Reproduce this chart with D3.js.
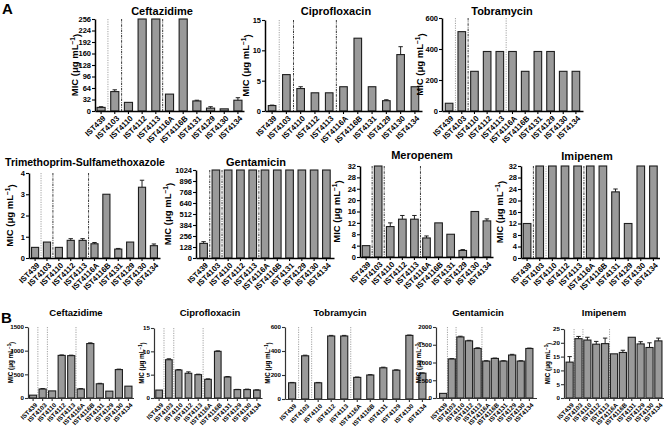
<!DOCTYPE html>
<html><head><meta charset="utf-8">
<script src="https://cdn.jsdelivr.net/npm/d3@7"></script>
<style>
body{margin:0;background:#fff;}
svg{display:block;font-family:"Liberation Sans",Arial,sans-serif;font-weight:bold;}
</style></head><body>
<svg id="c" width="664" height="427"></svg>
<script>
// ---------- data ----------
const strains = ["IST439","IST4103","IST4110","IST4112","IST4113","IST4116A","IST4116B","IST4131","IST4129","IST4130","IST4134"];

const aCeftazidime    = [10, 54, 24, 256, 256, 47, 256, 28, 8, 6, 30];
const aCeftazidimeErr = [2, 5, 0, 0, 0, 0, 0, 2, 4, 0, 7];
const aCiprofloxacin    = [0.9, 6, 3.7, 3, 3, 4, 12, 4, 1.7, 9.3, 4];
const aCiprofloxacinErr = [0.07, 0, 0.3, 0, 0, 0, 0, 0, 0.15, 1.3, 0];
const aTobramycin    = [50, 512, 256, 384, 384, 384, 256, 384, 384, 256, 256];
const aTobramycinErr = [0, 0, 0, 0, 0, 0, 0, 0, 0, 0, 0];
const aTrimethoprim    = [0.5, 0.75, 0.5, 0.83, 0.83, 0.67, 3, 0.42, 0.75, 3.33, 0.58];
const aTrimethoprimErr = [0, 0, 0, 0.08, 0.08, 0.06, 0, 0.03, 0, 0.33, 0.08];
const aGentamicin    = [170, 1024, 1024, 1024, 1024, 1024, 1024, 1024, 1024, 1024, 1024];
const aGentamicinErr = [20, 0, 0, 0, 0, 0, 0, 0, 0, 0, 0];
const aMeropenem    = [4, 32, 10.7, 13.3, 13.3, 6.7, 12, 8, 2.3, 16, 12.7];
const aMeropenemErr = [0, 0, 1.3, 1.3, 1.3, 0.7, 0, 0, 0.3, 0, 0.7];
const aImipenem    = [12, 32, 32, 32, 32, 32, 32, 23, 12, 32, 32];
const aImipenemErr = [0, 0, 0, 0, 0, 0, 0, 1, 0, 0, 0];

const bCeftazidime    = [60, 190, 150, 900, 895, 190, 1150, 300, 145, 600, 250];
const bCeftazidimeErr = [0, 10, 0, 10, 10, 10, 15, 10, 0, 10, 0];
const bCiprofloxacin    = [1.7, 8.2, 6.0, 5.3, 5.0, 4.0, 10.0, 4.5, 1.8, 1.8, 1.7];
const bCiprofloxacinErr = [0, 0.2, 0.1, 0.3, 0.1, 0.1, 0.1, 0.1, 0.05, 0.1, 0.05];
const bTobramycin    = [135, 360, 135, 525, 525, 180, 200, 260, 240, 530, 215];
const bTobramycinErr = [3, 5, 3, 5, 5, 3, 3, 5, 3, 3, 3];
const bGentamicin    = [130, 1100, 1720, 1610, 1395, 1040, 1115, 1040, 1210, 1040, 1395];
const bGentamicinErr = [0, 10, 20, 15, 20, 10, 10, 10, 20, 10, 10];
const bImipenem    = [13, 21.5, 21, 19.5, 19.7, 16, 16.5, 22, 19.6, 18.3, 20.7];
const bImipenemErr = [2, 0.8, 1, 1, 2, 0, 0.8, 0, 0.8, 1.7, 1];

const ticks256 = [0, 32, 64, 96, 128, 160, 192, 224, 256];
const ticks15 = [0, 5, 10, 15];
const ticks600 = [0, 200, 400, 600];
const ticks4 = [0, 1, 2, 3, 4];
const ticks1024 = [0, 128, 256, 384, 512, 640, 768, 896, 1024];
const ticks32 = [0, 4, 8, 12, 16, 20, 24, 28, 32];
const ticks1500 = [0, 500, 1000, 1500];
const ticks2000 = [0, 500, 1000, 1500, 2000];
const ticks25 = [0, 5, 10, 15, 20, 25];

// ---------- layout ----------
const A = {title: 11, tick: 7.5, xtick: 7.8, ylab: 9.5, axis: "#000", aw: 1.5};
const B = {title: 9.5, tick: 6.2, xtick: 6.3, ylab: 6.3, axis: "#333", aw: 1.2};
const sepA = [[1,"g"],[2,"k"],[5,"k"]];
const sepB = [[1,"g"],[2,"g"],[5,"g"]];
const panels = [
  {name:"Ceftazidime", v:aCeftazidime, e:aCeftazidimeErr, t:ticks256, f:A, x0:95, c0:101, c1:236, bw:8, yT:19, yB:111, tx:162, ty:15, lx:75, seps:sepA},
  {name:"Ciprofloxacin", v:aCiprofloxacin, e:aCiprofloxacinErr, t:ticks15, f:A, x0:265, c0:272, c1:413, bw:7.5, yT:20, yB:111, tx:336, ty:15, lx:246, seps:sepA},
  {name:"Tobramycin", v:aTobramycin, e:aTobramycinErr, t:ticks600, f:A, x0:442, c0:449, c1:574, bw:7.5, yT:18, yB:111, tx:502, ty:15, lx:420, seps:[[1,"g"],[2,"k"],[5,"g"]]},
  {name:"Trimethoprim-Sulfamethoxazole", v:aTrimethoprim, e:aTrimethoprimErr, t:ticks4, f:Object.assign({}, A, {title:10.5}), x0:29, c0:35, c1:152, bw:7, yT:173, yB:258, tx:85, ty:166, lx:10, seps:sepA},
  {name:"Gentamicin", v:aGentamicin, e:aGentamicinErr, t:ticks1024, f:A, x0:196, c0:203.5, c1:324.5, bw:7.5, yT:170, yB:258, tx:256, ty:166, lx:168, seps:[[1,"k"],[2,"k"],[5,"k"]]},
  {name:"Meropenem", v:aMeropenem, e:aMeropenemErr, t:ticks32, f:A, x0:360, c0:366, c1:485, bw:7.5, yT:166, yB:257, tx:422, ty:159, lx:337, seps:[[1,"k"],[2,"k"],[5,"k"]]},
  {name:"Imipenem", v:aImipenem, e:aImipenemErr, t:ticks32, f:A, x0:521, c0:527, c1:651.5, bw:7.5, yT:166, yB:258, tx:587, ty:160, lx:500, seps:[[1,"k"],[2,"g"],[5,"k"]]},
  {name:"Ceftazidime", v:bCeftazidime, e:bCeftazidimeErr, t:ticks1500, f:B, x0:28, c0:33, c1:126.5, bw:7, yT:327, yB:398, tx:76, ty:316, lx:11, seps:sepB},
  {name:"Ciprofloxacin", v:bCiprofloxacin, e:bCiprofloxacinErr, t:ticks15, f:B, x0:154, c0:159, c1:255, bw:6.5, yT:328, yB:398, tx:210, ty:316, lx:142, seps:sepB},
  {name:"Tobramycin", v:bTobramycin, e:bTobramycinErr, t:ticks600, f:B, x0:285, c0:292, c1:420.5, bw:7, yT:327, yB:399, tx:340, ty:316, lx:268, seps:sepB},
  {name:"Gentamicin", v:bGentamicin, e:bGentamicinErr, t:ticks2000, f:B, x0:436, c0:443, c1:527.5, bw:7, yT:327, yB:398, tx:478, ty:316, lx:419, seps:sepB},
  {name:"Imipenem", v:bImipenem, e:bImipenemErr, t:ticks25, f:B, x0:564, c0:569.5, c1:656.5, bw:7, yT:329, yB:398, tx:604, ty:316, lx:548, seps:sepB}
];

const svg = d3.select("#c");
svg.append("text").attr("x",2).attr("y",14).attr("font-size",15).text("A");
svg.append("text").attr("x",1).attr("y",323).attr("font-size",15).text("B");

function drawPanel(p){
  const g = svg.append("g");
  const n = strains.length;
  const step = (p.c1 - p.c0)/(n-1);
  const pi = 1 - p.bw/step;
  const po = Math.max(0, (p.c0 - p.x0 - p.bw/2)/step);
  const r1 = p.c1 + p.bw/2 + po*step + 2;
  const x = d3.scaleBand().domain(strains).range([p.x0, r1]).paddingInner(pi).paddingOuter(po);
  const max = p.t[p.t.length-1];
  const y = d3.scaleLinear().domain([0, max]).range([p.yB, p.yT]);

  // separators
  p.seps.forEach(([i, s]) => {
    const sx = (x(strains[i-1]) + x.bandwidth() + x(strains[i]))/2;
    g.append("line").attr("x1",sx).attr("x2",sx).attr("y1",y(max)).attr("y2",p.yB)
      .attr("stroke", s==="k" ? "#222" : "#999")
      .attr("stroke-width", 0.9)
      .attr("stroke-dasharray", s==="k" ? "2.5,1,0.8,1" : "1.2,1.2");
  });

  // bars
  const data = strains.map((s,i)=>({s, v:p.v[i], e:p.e[i]}));
  g.selectAll("rect.bar").data(data).join("rect")
    .attr("x", d=>x(d.s)).attr("width", x.bandwidth())
    .attr("y", d=>y(d.v)).attr("height", d=>p.yB - y(d.v))
    .attr("fill","#9a9a9a").attr("stroke","#1e1e1e").attr("stroke-width",1.1);

  // error bars (upper only)
  const eb = data.filter(d=>d.e>0);
  g.selectAll("line.err").data(eb).join("line")
    .attr("x1", d=>x(d.s)+x.bandwidth()/2).attr("x2", d=>x(d.s)+x.bandwidth()/2)
    .attr("y1", d=>y(d.v)).attr("y2", d=>y(d.v+d.e))
    .attr("stroke","#1e1e1e").attr("stroke-width",1);
  g.selectAll("line.cap").data(eb).join("line")
    .attr("x1", d=>x(d.s)+x.bandwidth()/2-2.2).attr("x2", d=>x(d.s)+x.bandwidth()/2+2.2)
    .attr("y1", d=>y(d.v+d.e)).attr("y2", d=>y(d.v+d.e))
    .attr("stroke","#1e1e1e").attr("stroke-width",1);

  // y axis
  const ya = g.append("g").attr("transform",`translate(${p.x0},0)`)
    .call(d3.axisLeft(y).tickValues(p.t).tickSize(3).tickSizeOuter(0).tickFormat(d3.format("d")));
  ya.select(".domain").attr("stroke",p.f.axis).attr("stroke-width",p.f.aw);
  ya.selectAll(".tick line").attr("stroke",p.f.axis).attr("stroke-width",1.1);
  ya.selectAll(".tick text").attr("font-size",p.f.tick).attr("font-family",null).attr("font-weight","bold").attr("fill","#000").attr("x",-4);

  // x axis
  const xa = g.append("g").attr("transform",`translate(0,${p.yB})`)
    .call(d3.axisBottom(x).tickSize(3).tickSizeOuter(0));
  xa.select(".domain").attr("stroke",p.f.axis).attr("stroke-width",p.f.aw);
  xa.selectAll(".tick line").attr("stroke",p.f.axis).attr("stroke-width",1.1);
  xa.selectAll(".tick text").attr("font-size",p.f.xtick).attr("font-family",null).attr("font-weight","bold").attr("fill","#000")
    .attr("y",0).attr("dy","0.35em").attr("text-anchor","end")
    .attr("transform",`translate(3,6) rotate(-45)`);

  // title
  g.append("text").attr("x",p.tx).attr("y",p.ty).attr("text-anchor","middle").attr("font-size",p.f.title).text(p.name);

  // y label
  const cy = (p.yT + p.yB)/2;
  const lab = g.append("text").attr("transform",`translate(${p.lx},${cy}) rotate(-90)`)
    .attr("text-anchor","middle").attr("font-size",p.f.ylab).attr("dy","0.35em");
  lab.append("tspan").text("MIC (μg mL");
  lab.append("tspan").attr("dy","-0.45em").attr("font-size",p.f.ylab*0.7).text("−1");
  lab.append("tspan").attr("dy","0.45em").text(")");
}
panels.forEach(drawPanel);
</script>
</body></html>
